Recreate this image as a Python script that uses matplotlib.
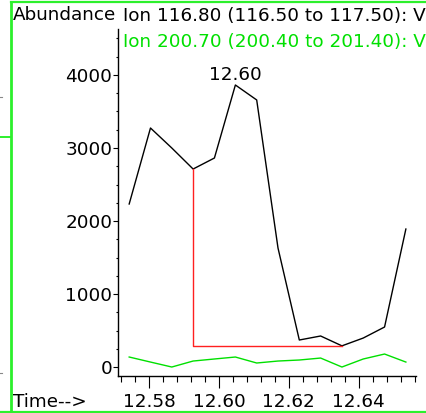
import matplotlib
matplotlib.use("Agg")
import matplotlib.pyplot as plt
from matplotlib.ticker import MultipleLocator, FormatStrFormatter
from matplotlib.lines import Line2D


# retention time (min) and ion abundances
times = [12.5743, 12.5804, 12.5865, 12.5926, 12.5987, 12.6047, 12.6108,
         12.6169, 12.6230, 12.6291, 12.6352, 12.6413, 12.6474, 12.6535]
ion_116 = [2233, 3274, 3000, 2712, 2863, 3863, 3658,
           1630, 370, 425, 290, 397, 548, 1890]
ion_200 = [137, 68, 0, 82, 110, 137, 55,
           82, 96, 123, 0, 110, 178, 68]

# integration: start index, end index, baseline level
peak_start = 3
peak_end = 10
baseline = 290

title_116 = "Ion 116.80 (116.50 to 117.50): V"
title_200 = "Ion 200.70 (200.40 to 201.40): V"

GREEN = "#00e000"
FRAME = "#2cf02c"
FS = 13.2

W, H = 426, 413
fig = plt.figure(figsize=(W / 100, H / 100), dpi=100)
ax = fig.add_axes([118 / W, 37 / H, 298 / W, 347 / H])

ax.plot(times, ion_116, color="black", lw=1.0)
ax.plot(times, ion_200, color=GREEN, lw=1.0)

# baseline drop line of the integrated peak
ax.plot([times[peak_start], times[peak_start], times[peak_end]],
        [ion_116[peak_start], baseline, baseline], color="#ff2020", lw=1.0)

# apex label
top = ion_116.index(max(ion_116))
ax.annotate("%.2f" % times[top], (times[top], ion_116[top]),
            xytext=(0, 3.6), textcoords="offset points",
            ha="center", va="baseline", fontsize=FS)

ax.set_xlim(12.5711, 12.6564)
ax.set_ylim(-123, 4630)

ax.xaxis.set_major_locator(MultipleLocator(0.02))
ax.xaxis.set_minor_locator(MultipleLocator(0.004))
ax.xaxis.set_major_formatter(FormatStrFormatter("%.2f"))
ax.yaxis.set_major_locator(MultipleLocator(1000))
ax.yaxis.set_minor_locator(MultipleLocator(250))

ax.tick_params(axis="x", which="major", length=8.4, width=0.8, pad=3.5, labelsize=FS)
ax.tick_params(axis="x", which="minor", length=4.1, width=0.8)
ax.tick_params(axis="y", which="major", length=3.6, width=0.8, pad=0.5, labelsize=FS)
ax.tick_params(axis="y", which="minor", length=1.6, width=0.8)

for s in ("top", "right"):
    ax.spines[s].set_visible(False)
for s in ("left", "bottom"):
    ax.spines[s].set_linewidth(1.0)

ax.patch.set_alpha(0)

fig.text(13 / W, (H - 20) / H, "Abundance", fontsize=FS, va="baseline", ha="left")
fig.text(123 / W, (H - 21) / H, title_116, fontsize=FS, va="baseline", ha="left")
fig.text(123 / W, (H - 47) / H, title_200, fontsize=FS, va="baseline", ha="left",
         color=GREEN)
fig.text(13 / W, (H - 407) / H, "Time-->", fontsize=FS, va="baseline", ha="left")


def px_line(xs, ys, **kw):
    fig.add_artist(Line2D([x / W for x in xs], [(H - y) / H for y in ys],
                          transform=fig.transFigure, **kw))


# green window frame
px_line([11, 11], [2, 412], color=FRAME, lw=2.0)
px_line([11, W], [2, 2], color=FRAME, lw=1.6)
px_line([0, W], [412, 412], color=FRAME, lw=1.6)
px_line([0, 11], [137, 137], color=FRAME, lw=1.4)
px_line([0, 2], [97, 97], color="#888888", lw=0.8)
px_line([0, 2], [373, 373], color="#888888", lw=0.8)

fig.savefig("out.png", dpi=100)
